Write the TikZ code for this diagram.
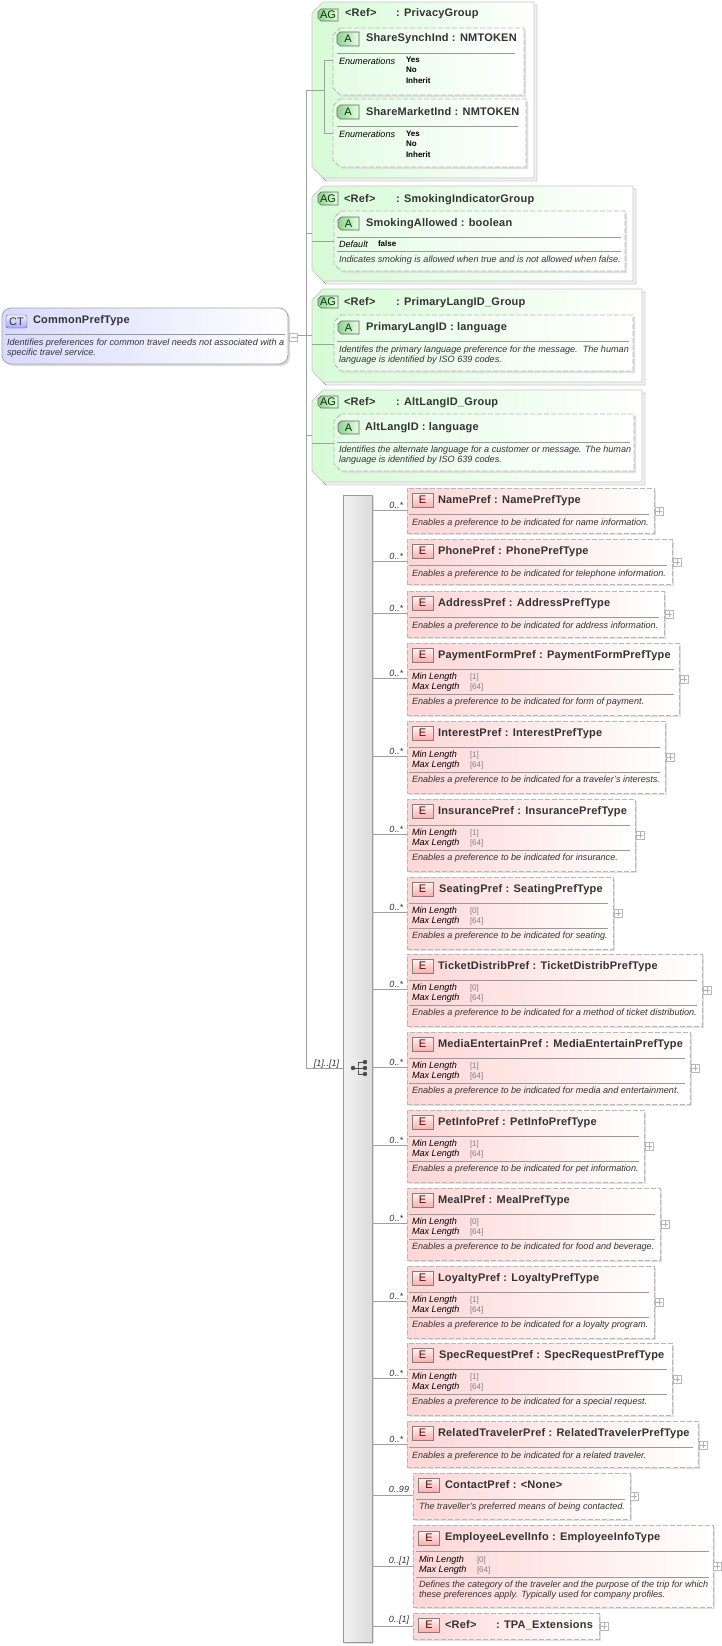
\documentclass[tikz,border=0pt]{standalone}
\usepackage{fontspec}
\setmainfont{Liberation Sans}
\newfontfamily\headfont[LetterSpace=2]{Liberation Sans}
\usetikzlibrary{calc,shadows}

\definecolor{rootfill}{HTML}{D9D9FF}
\definecolor{elemfill}{HTML}{FFD6D6}
\definecolor{groupfill}{HTML}{D6FBD6}
\definecolor{attrfill}{HTML}{E4FCE4}
\definecolor{iconleft}{HTML}{8FD08F}
\definecolor{iconright}{HTML}{E8FFE8}
\definecolor{inkcol}{HTML}{333333}
\definecolor{linkcol}{HTML}{A0A0A0}

\tikzset{
  link/.style={draw=linkcol, line width=0.7pt},
  rootbox/.style={draw=black!35, rounded corners=9pt, left color=rootfill, right color=white, line width=0.8pt,
    general shadow={shadow xshift=2pt, shadow yshift=-2pt, fill=black!14}},
  elembox/.style={draw=black!28, dash pattern=on 5pt off 2pt, line width=0.9pt, left color=elemfill, right color=white,
    general shadow={shadow xshift=2pt, shadow yshift=-2pt, fill=black!12}},
  groupbox/.style={draw=black!22, line width=0.7pt, left color=groupfill, right color=white,
    copy shadow={shadow xshift=3pt, shadow yshift=-3pt, fill=black!5, draw=black!50}},
  attrbox/.style={draw=black!28, dash pattern=on 5pt off 2pt, line width=0.9pt, left color=attrfill, right color=white,
    general shadow={shadow xshift=2pt, shadow yshift=-2pt, fill=black!12}},
  barbox/.style={draw=black!40, line width=0.8pt, left color=black!5, right color=black!14,
    general shadow={shadow xshift=2pt, shadow yshift=-2pt, fill=black!12}},
  icon/.style={inner sep=0pt, outer sep=0pt, text=inkcol, font=\fontsize{11}{11}\selectfont},
  elemicon/.style={icon, draw=black!50, text=red!35!black, top color=red!4, bottom color=red!32, minimum width=21pt, minimum height=14pt},
  attricon/.style={draw=black!60, line width=0.7pt, left color=iconleft, right color=iconright},
  icontext/.style={icon, text=green!20!black},
  rooticon/.style={icon, rounded corners=2pt, draw=black!65, top color=blue!5, bottom color=blue!35, minimum width=21pt, minimum height=13pt},
  headtext/.style={anchor=base west, inner sep=0pt, outer sep=0pt, text=inkcol, font=\headfont\bfseries\fontsize{11}{12}\selectfont},
  doctext/.style={anchor=base west, inner sep=0pt, outer sep=0pt, text=inkcol, font=\itshape\fontsize{9.1}{10}\selectfont},
  doclines/.style={doctext, anchor=north west, align=left},
  facetname/.style={doctext, text=black},
  facetval/.style={anchor=base west, inner sep=0pt, outer sep=0pt, text=black!50, font=\fontsize{8}{9}\selectfont},
  enumval/.style={anchor=base west, inner sep=0pt, outer sep=0pt, text=black, font=\bfseries\fontsize{8}{9}\selectfont},
  multtext/.style={anchor=base east, inner sep=0pt, outer sep=0pt, text=inkcol, font=\itshape\fontsize{9}{10}\selectfont},
  rule/.style={draw=black!40, line width=0.6pt},
  expandbox/.style={draw=black!28, fill=white, minimum size=8pt, inner sep=0pt, line width=0.6pt,
    path picture={\draw[black!30, line width=0.6pt] (path picture bounding box.center) ++(-3pt,0) -- ++(6pt,0) ++(-3pt,-3pt) -- ++(0,6pt);}},
  collapsebox/.style={draw=black!28, fill=white, minimum size=8pt, inner sep=0pt, line width=0.6pt,
    path picture={\draw[black!30, line width=0.6pt] (path picture bounding box.center) ++(-3pt,0) -- ++(6pt,0);}},
  choicedot/.style={circle, fill=black!70, inner sep=0pt, minimum size=4.4pt},
}

% style, name, left, top, right, bottom
\newcommand{\boxat}[6]{\node[#1, inner sep=0pt, outer sep=0pt, minimum width={(#5-#3)*1pt}, minimum height={(#6-#4)*1pt}] (#2) at ({(#3+#5)/2},{(#4+#6)/2}) {};}
% style, name, left, top, right, bottom, cut, text
\newcommand{\chamferat}[8]{\draw[#1] ({#3+#7},#4) -- (#5,#4) -- (#5,#6) -- ({#3+#7},#6) -- (#3,{#6-#7}) -- (#3,{#4+#7}) -- cycle;
  \node[icontext, inner sep=0pt, outer sep=0pt, minimum width={(#5-#3)*1pt}, minimum height={(#6-#4)*1pt}] (#2) at ({(#3+#5)/2},{(#4+#6)/2}) {#8};}

\begin{document}
\begin{tikzpicture}[x=1pt,y=-1pt]
\useasboundingbox (0,0) rectangle (722,1646);

% compositor bar and trunk
\coordinate (trunktop) at (306,90);
\coordinate (trunkbot) at (306,1068);
\boxat{barbox}{bar}{343}{495}{372}{1642}
\draw[link] (trunktop) -- (trunkbot) -- (bar.west |- trunkbot);
\node[multtext] (trunkmult) at (339,1066) {[1]..[1]};

\node[choicedot] (chleft) at (353,1068) {};
\node[choicedot] (chtop) at (365,1062) {};
\node[choicedot] (chmid) at (365,1068) {};
\node[choicedot] (chbot) at (365,1074) {};
\coordinate (chjoin) at (358,1068);
\draw[black!70, line width=0.9pt] (chleft) -- (chmid);
\draw[black!70, line width=0.9pt] (chtop) -| (chjoin) |- (chbot);

% root type
\boxat{rootbox}{root}{2}{308}{288}{364}
\node[rooticon] (rooticn) at (16.5,321.5) {CT};
\node[headtext] (roottitle) at (33,323) {CommonPrefType};
\draw[rule] (5,334) -- (285,334);
\node[doclines] (rootdoc) at (7,339) {Identifies preferences for common travel needs not associated with a\\specific travel service.};
\node[collapsebox] (rootminus) at (293.5,337) {};
\coordinate (rootjoin) at (306,335);
\draw[link] (rootminus.east |- rootjoin) -- (rootjoin);

% attribute group 1
\chamferat{groupbox}{privacy}{312}{2}{534}{178}{11}{}
\chamferat{attricon}{privacyicn}{318}{9}{338}{21}{3}{AG}
\node[headtext] (privacyref) at (345,17) {<Ref>};
\node[headtext] (privacytitle) at (396,17) {: PrivacyGroup};
\coordinate (privacyjoin) at (324,90);
\draw[link] (trunktop) -- (privacyjoin);

\chamferat{attrbox}{synch}{333}{28}{524}{95}{7}{}
\chamferat{attricon}{synchicn}{337}{32}{359}{46}{3}{A}
\node[headtext] (synchtitle) at (366,42) {ShareSynchInd : NMTOKEN};
\draw[rule] (337,53) -- (515,53);
\node[facetname] (synchenum) at (339,64) {Enumerations};
\node[enumval] (synchyes) at (406,63) {Yes};
\node[enumval] (synchno) at (406,73) {No};
\node[enumval] (synchinh) at (406,84) {Inherit};
\coordinate (synchcon) at (333,60);
\draw[link] (synchcon) -| (privacyjoin);

\chamferat{attrbox}{market}{333}{99}{526}{167}{7}{}
\chamferat{attricon}{marketicn}{337}{105}{359}{119}{3}{A}
\node[headtext] (markettitle) at (366,115) {ShareMarketInd : NMTOKEN};
\draw[rule] (337,126) -- (518,126);
\node[facetname] (marketenum) at (339,137) {Enumerations};
\node[enumval] (marketyes) at (406,136) {Yes};
\node[enumval] (marketno) at (406,146) {No};
\node[enumval] (marketinh) at (406,157) {Inherit};
\coordinate (marketcon) at (333,133);
\draw[link] (marketcon) -| (privacyjoin);

% attribute group 2
\chamferat{groupbox}{smoking}{312}{186}{633}{281}{11}{}
\chamferat{attricon}{smokingicn}{318}{192}{338}{205}{3}{AG}
\node[headtext] (smokingref) at (344,202) {<Ref>};
\node[headtext] (smokingtitle) at (396,202) {: SmokingIndicatorGroup};
\coordinate (smokingcon) at (312,233);
\draw[link] (trunktop |- smokingcon) -- (smokingcon);

\chamferat{attrbox}{allowed}{334}{211}{625}{271}{7}{}
\chamferat{attricon}{allowedicn}{338}{217}{359}{230}{3}{A}
\node[headtext] (allowedtitle) at (366,226) {SmokingAllowed : boolean};
\draw[rule] (337,237) -- (621,237);
\node[facetname] (alloweddef) at (339,247) {Default};
\node[enumval] (allowedval) at (378,246) {false};
\draw[rule] (337,251) -- (621,251);
\node[doctext] (alloweddoc) at (339,262) {Indicates smoking is allowed when true and is not allowed when false.};
\coordinate (allowedcon) at (334,241);
\draw[link] (smokingcon |- allowedcon) -- (allowedcon);

% attribute group 3
\chamferat{groupbox}{primary}{312}{289}{642}{382}{11}{}
\chamferat{attricon}{primaryicn}{318}{296}{338}{308}{3}{AG}
\node[headtext] (primaryref) at (344,305) {<Ref>};
\node[headtext] (primarytitle) at (396,305) {: PrimaryLangID\_Group};
\coordinate (primarycon) at (312,335);
\draw[link] (rootjoin) -- (primarycon);

\chamferat{attrbox}{primaryid}{334}{315}{633}{371}{7}{}
\chamferat{attricon}{primaryidicn}{338}{321}{359}{334}{3}{A}
\node[headtext] (primaryidtitle) at (366,330) {PrimaryLangID : language};
\draw[rule] (337,341) -- (629,341);
\node[doclines] (primaryiddoc) at (339,346) {Identifes the primary language preference for the message.\ \ The human\\language is identified by ISO 639 codes.};
\coordinate (primaryidcon) at (334,344);
\draw[link] (primarycon |- primaryidcon) -- (primaryidcon);

% attribute group 4
\chamferat{groupbox}{alt}{312}{390}{642}{482}{11}{}
\chamferat{attricon}{alticn}{318}{396}{338}{408}{3}{AG}
\node[headtext] (altref) at (344,405) {<Ref>};
\node[headtext] (alttitle) at (396,405) {: AltLangID\_Group};
\coordinate (altcon) at (312,435);
\draw[link] (trunktop |- altcon) -- (altcon);

\chamferat{attrbox}{altid}{334}{414}{634}{471}{7}{}
\chamferat{attricon}{altidicn}{338}{421}{359}{434}{3}{A}
\node[headtext] (altidtitle) at (365,430) {AltLangID : language};
\draw[rule] (337,442) -- (630,442);
\node[doclines] (altiddoc) at (339,446) {Identifies the alternate language for a customer or message. The human\\language is identified by ISO 639 codes.};
\coordinate (altidcon) at (334,443);
\draw[link] (altcon |- altidcon) -- (altidcon);

% elements without facets
\foreach \elem/\ttl/\yt/\yb/\xr/\yc/\doc in {
  name/{NamePref : NamePrefType}/488/533/654/510/{Enables a preference to be indicated for name information.},
  phone/{PhonePref : PhonePrefType}/539/584/672/561/{Enables a preference to be indicated for telephone information.},
  address/{AddressPref : AddressPrefType}/591/637/664/613/{Enables a preference to be indicated for address information.},
  related/{RelatedTravelerPref : RelatedTravelerPrefType}/1421/1467/698/1444/{Enables a preference to be indicated for a related traveler.}}
{
  \boxat{elembox}{\elem}{407}{\yt}{\xr}{\yb}
  \node[elemicon] (\elem-icn) at (422.5,\yt+12) {E};
  \node[headtext] (\elem-title) at (438,\yt+15.5) {\ttl};
  \draw[rule] (409,\yt+26) -- (\xr-5,\yt+26);
  \node[doctext] (\elem-doc) at (412,\yt+37.5) {\doc};
  \coordinate (\elem-con) at (407,\yc);
  \draw[link] (bar.east |- \elem-con) -- (\elem-con);
  \node[multtext] (\elem-mult) at (403,\yc-2) {0..*};
  \node[expandbox] (\elem-plus) at (\xr+5,\yc+1) {};
}

% elements with length facets
\foreach \elem/\ttl/\tx/\yt/\xr/\yc/\mn/\doc in {
  payment/{PaymentFormPref : PaymentFormPrefType}/438/643/679/678/1/{Enables a preference to be indicated for form of payment.},
  interest/{InterestPref : InterestPrefType}/438/721/665/756/1/{Enables a preference to be indicated for a traveler's interests.},
  insurance/{InsurancePref : InsurancePrefType}/438/799/635/834/1/{Enables a preference to be indicated for insurance.},
  seating/{SeatingPref : SeatingPrefType}/439/877/613/912/0/{Enables a preference to be indicated for seating.},
  ticket/{TicketDistribPref : TicketDistribPrefType}/438/954/702/989/0/{Enables a preference to be indicated for a method of ticket distribution.},
  media/{MediaEntertainPref : MediaEntertainPrefType}/438/1032/690/1067/1/{Enables a preference to be indicated for media and entertainment.},
  petinfo/{PetInfoPref : PetInfoPrefType}/438/1110/644/1145/1/{Enables a preference to be indicated for pet information.},
  meal/{MealPref : MealPrefType}/438/1188/660/1223/0/{Enables a preference to be indicated for food and beverage.},
  loyalty/{LoyaltyPref : LoyaltyPrefType}/438/1266/654/1301/1/{Enables a preference to be indicated for a loyalty program.},
  specreq/{SpecRequestPref : SpecRequestPrefType}/439/1343/672/1378/1/{Enables a preference to be indicated for a special request.}}
{
  \boxat{elembox}{\elem}{407}{\yt}{\xr}{\yt+72}
  \node[elemicon] (\elem-icn) at (422.5,\yt+12) {E};
  \node[headtext] (\elem-title) at (\tx,\yt+15.5) {\ttl};
  \draw[rule] (409,\yt+26) -- (\xr-5,\yt+26);
  \node[facetname] (\elem-minname) at (412,\yt+36.5) {Min Length};
  \node[facetval] (\elem-minval) at (470,\yt+36.5) {[\mn]};
  \node[facetname] (\elem-maxname) at (412,\yt+46.5) {Max Length};
  \node[facetval] (\elem-maxval) at (470,\yt+46.5) {[64]};
  \draw[rule] (409,\yt+51) -- (\xr-5,\yt+51);
  \node[doctext] (\elem-doc) at (412,\yt+61.5) {\doc};
  \coordinate (\elem-con) at (407,\yc);
  \draw[link] (bar.east |- \elem-con) -- (\elem-con);
  \node[multtext] (\elem-mult) at (403,\yc-2) {0..*};
  \node[expandbox] (\elem-plus) at (\xr+5,\yc+1) {};
}

% the last three elements
\boxat{elembox}{contact}{413}{1473}{630}{1519}
\node[elemicon] (contacticn) at (429,1485) {E};
\node[headtext] (contacttitle) at (445,1488) {ContactPref : <None>};
\draw[rule] (416,1499) -- (625,1499);
\node[doctext] (contactdoc) at (419,1509) {The traveller's preferred means of being contacted.};
\coordinate (contactcon) at (413,1495);
\draw[link] (bar.east |- contactcon) -- (contactcon);
\node[multtext] (contactmult) at (409,1492) {0..99};
\node[expandbox] (contactplus) at (634,1496) {};

\boxat{elembox}{employee}{413}{1525}{713}{1607}
\node[elemicon] (employeeicn) at (429,1538) {E};
\node[headtext] (employeetitle) at (445,1540) {EmployeeLevelInfo : EmployeeInfoType};
\draw[rule] (416,1551) -- (709,1551);
\node[facetname] (employeeminname) at (419,1562) {Min Length};
\node[facetval] (employeeminval) at (477,1562) {[0]};
\node[facetname] (employeemaxname) at (419,1572) {Max Length};
\node[facetval] (employeemaxval) at (477,1572) {[64]};
\draw[rule] (416,1577) -- (709,1577);
\node[doclines] (employeedoc) at (419,1581) {Defines the category of the traveler and the purpose of the trip for which\\these preferences apply. Typically used for company profiles.};
\coordinate (employeecon) at (413,1566);
\draw[link] (bar.east |- employeecon) -- (employeecon);
\node[multtext] (employeemult) at (409,1563) {0..[1]};
\node[expandbox] (employeeplus) at (717,1566) {};

\boxat{elembox}{tpa}{413}{1613}{599}{1639}
\node[elemicon] (tpaicn) at (429,1625) {E};
\node[headtext] (tparef) at (445,1628) {<Ref>};
\node[headtext] (tpatitle) at (496,1628) {: TPA\_Extensions};
\coordinate (tpacon) at (413,1626);
\draw[link] (bar.east |- tpacon) -- (tpacon);
\node[multtext] (tpamult) at (409,1622) {0..[1]};
\node[expandbox] (tpaplus) at (604,1626) {};
\end{tikzpicture}
\end{document}
